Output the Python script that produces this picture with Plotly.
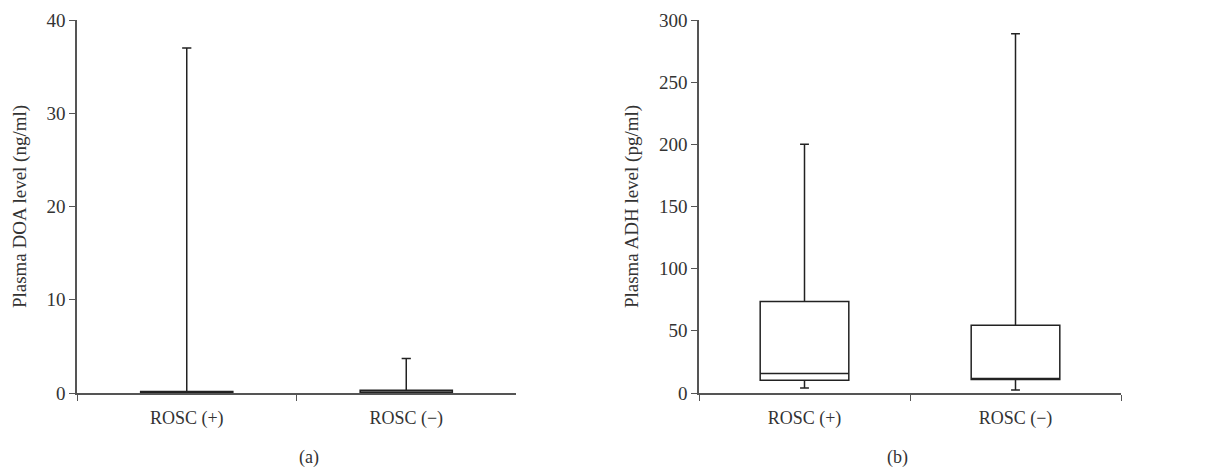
import plotly.graph_objects as go

categories = ["ROSC (+)", "ROSC (−)"]

# Panel (a): Plasma DOA level (ng/ml)
doa_min = [0.0, 0.0]
doa_q1 = [0.0, 0.0]
doa_median = [0.05, 0.1]
doa_q3 = [0.15, 0.3]
doa_max = [37.0, 3.7]

# Panel (b): Plasma ADH level (pg/ml)
adh_min = [4.0, 2.4]
adh_q1 = [10.2, 10.8]
adh_median = [15.6, 10.8]
adh_q3 = [73.5, 54.5]
adh_max = [200.0, 289.0]

FONT = "Liberation Serif"
LINE = "#222222"
AXIS = "#555555"
TXT = "#333333"

fig = go.Figure()

def add_boxes(xaxis, yaxis, lo, q1, med, q3, hi):
    for i, c in enumerate(categories):
        fig.add_trace(go.Box(
            x=[c], q1=[q1[i]], median=[med[i]], q3=[q3[i]],
            lowerfence=[lo[i]], upperfence=[hi[i]],
            xaxis=xaxis, yaxis=yaxis,
            width=0.42, whiskerwidth=0.1,
            fillcolor="rgba(255,255,255,0)",
            line=dict(color=LINE, width=1.5),
            boxpoints=False, showlegend=False, hoverinfo="skip",
        ))

add_boxes("x", "y", doa_min, doa_q1, doa_median, doa_q3, doa_max)
add_boxes("x2", "y2", adh_min, adh_q1, adh_median, adh_q3, adh_max)

W, H = 1212, 470
yd = [(H - 393) / H, (H - 20) / H]

xcommon = dict(type="category", categoryorder="array", categoryarray=categories,
               range=[-0.5, 1.5], tickson="boundaries", ticks="outside", ticklen=6,
               tickcolor=AXIS, showline=True, linecolor=AXIS, linewidth=1.5,
               showgrid=False, zeroline=False, automargin=False,
               ticklabelstandoff=8,
               tickfont=dict(family=FONT, size=18, color=TXT))
ycommon = dict(ticks="outside", ticklen=6, tickcolor=AXIS, showline=True,
               linecolor=AXIS, linewidth=1.5, showgrid=False, zeroline=False,
               automargin=False,
               tickfont=dict(family=FONT, size=19, color=TXT),
               title_font=dict(family=FONT, size=19, color=TXT))

fig.update_layout(
    width=W, height=H, margin=dict(l=0, r=0, t=0, b=0, autoexpand=False),
    paper_bgcolor="white", plot_bgcolor="white",
    xaxis=dict(domain=[77 / W, 516 / W], anchor="y", **xcommon),
    xaxis2=dict(domain=[699 / W, 1121 / W], anchor="y2", **xcommon),
    yaxis=dict(domain=yd, anchor="x", range=[0, 40], tickvals=[0, 10, 20, 30, 40],
               title=dict(text="Plasma DOA level (ng/ml)", standoff=15), **ycommon),
    yaxis2=dict(domain=yd, anchor="x2", range=[0, 300],
                tickvals=[0, 50, 100, 150, 200, 250, 300],
                title=dict(text="Plasma ADH level (pg/ml)", standoff=15), **ycommon),
    annotations=[
        dict(text="(a)", x=297 / W, y=(H - 457) / H, xref="paper", yref="paper",
             yanchor="middle",
             showarrow=False, font=dict(family=FONT, size=18, color=TXT)),
        dict(text="(b)", x=910 / W, y=(H - 457) / H, xref="paper", yref="paper",
             yanchor="middle",
             showarrow=False, font=dict(family=FONT, size=18, color=TXT)),
    ],
)

fig.write_html("out.html", config={"displayModeBar": False},
               post_script="document.body.style.margin='0';document.body.style.overflow='hidden';")
